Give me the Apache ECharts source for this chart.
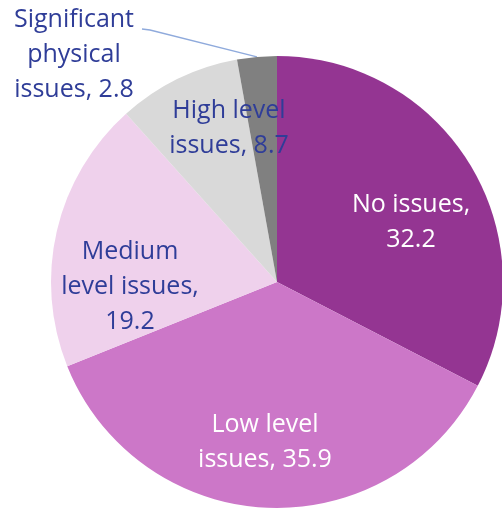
<!DOCTYPE html>
<html><head><meta charset="utf-8">
<script src="https://cdn.jsdelivr.net/npm/echarts@6/dist/echarts.min.js"></script>
<style>html,body{margin:0;padding:0;background:#fff}#c{width:502px;height:510px}</style>
</head><body><div id="c"></div>
<script>
const categories = ["No issues", "Low level\nissues", "Medium\nlevel issues", "High level\nissues", "Significant\nphysical\nissues"];
const values = [32.2, 35.9, 19.2, 8.7, 2.8];
const colors = ["#943592", "#CC77C8", "#EFD1EC", "#D9D9D9", "#808080"];
const labelColors = ["#ffffff", "#ffffff", "#2F3D98", "#2F3D98", "#2F3D98"];
const separators = [",\n", ", ", ",\n", ", ", ", "];
const labelPos = [[411, 222], [265, 442], [130, 287], [229, 128], [74, 55]];

const chart = echarts.init(document.getElementById('c'));
chart.setOption({
  animation: false,
  series: [{
    type: 'pie',
    center: [277, 282],
    radius: [0, 226],
    startAngle: 90,
    data: categories.map((c, i) => ({
      name: c, value: values[i],
      itemStyle: { color: colors[i] },
      label: {
        color: labelColors[i],
        position: i === 4 ? 'outside' : 'inside'
      },
      labelLine: { show: i === 4, lineStyle: { color: '#8FAADC', width: 1.3 }, length: 10, length2: 10 }
    })),
    label: {
      show: true,
      fontFamily: 'Open Sans',
      fontSize: 25,
      lineHeight: 35,
      align: 'center',
      formatter: p => p.name + separators[p.dataIndex] + p.value
    },
    labelLayout: function (p) {
      const pos = labelPos[p.dataIndex];
      const out = { x: pos[0], y: pos[1], align: 'center', verticalAlign: 'middle' };
      if (p.dataIndex === 4 && p.labelLinePoints) {
        out.labelLinePoints = [p.labelLinePoints[0], [150, 30], [142, 29]];
      }
      return out;
    }
  }]
});
</script></body></html>
